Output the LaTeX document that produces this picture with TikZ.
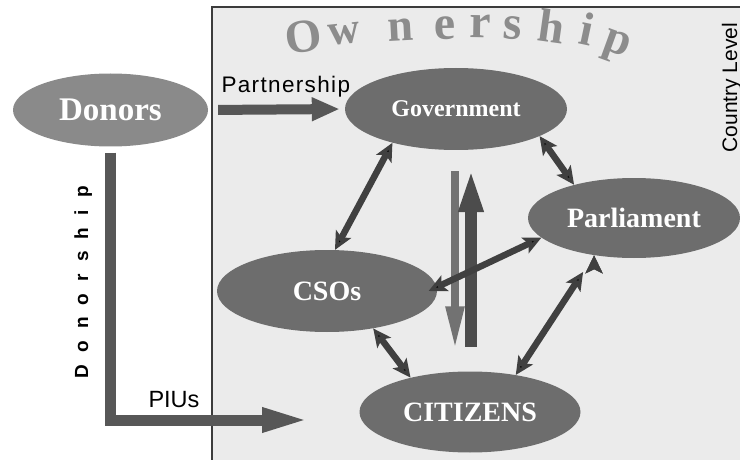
\documentclass[tikz,border=0pt]{standalone}
\usepackage{fontspec}
\setmainfont{Liberation Serif}
\setsansfont{Liberation Sans}
\usetikzlibrary{arrows.meta,shapes.geometric}

\definecolor{panel}{HTML}{EBEBEB}
\definecolor{frame}{HTML}{3C3C3C}
\definecolor{donorgray}{HTML}{8A8A8A}
\definecolor{actorgray}{HTML}{6D6D6D}
\definecolor{flowgray}{HTML}{575757}
\definecolor{linkgray}{HTML}{404040}
\definecolor{downgray}{HTML}{727272}
\definecolor{upgray}{HTML}{4C4C4C}
\definecolor{owngray}{HTML}{8C8C8C}

\begin{document}
\begin{tikzpicture}[x=1pt,y=-1pt,
    actor/.style={ellipse,fill=actorgray,text=white,inner sep=0pt,
                  font=\fontsize{28}{30}\selectfont\bfseries},
    link/.style={{Stealth[length=18pt,width=17pt,inset=4pt]}-{Stealth[length=18pt,width=17pt,inset=4pt]},
                 line width=6.5pt,draw=linkgray},
    flow/.style={-{Triangle[length=#1,width=22pt]},line width=10pt,draw=flowgray},
    label/.style={font=\sffamily\fontsize{#1}{#1}\selectfont,anchor=base west}]
  \useasboundingbox (0,0) rectangle (740,460);

  % country panel
  \fill[panel] (212,7) rectangle (740,460);
  \draw[frame,line width=1.2pt] (212,460) -- (212,7) -- (740,7);

  % arched title
  \foreach \c/\x/\y/\a/\s in {O/306/52/8/47, w/345/44/6/44, n/401/41/3/46,
      e/445/39/1/48, r/480/38/-1/48, s/512/39/-4/48, h/549/42/-8/47,
      i/584/45/-12/47, p/614/53/-20/47}
    \node[name=own\x,text=owngray,font=\fontsize{\s}{\s}\selectfont\bfseries,
          rotate=\a,anchor=base,inner sep=0pt] at (\x,\y) {\c};

  \node[ellipse,fill=donorgray,text=white,inner sep=0pt,minimum width=195pt,
        minimum height=73pt,font=\fontsize{33}{35}\selectfont\bfseries]
        (donors) at (110.5,110) {Donors};
  \node[actor,minimum width=222pt,minimum height=82pt,
        font=\fontsize{24}{26}\selectfont\bfseries] (gov) at (456,109) {Government};
  \node[actor,minimum width=212pt,minimum height=80pt] (parl) at (634,218) {Parliament};
  \node[actor,minimum width=220pt,minimum height=82pt] (csos) at (327,291) {CSOs};
  \node[actor,minimum width=221pt,minimum height=81pt] (cit) at (470,412) {CITIZENS};

  \node[label=22.5] (partner) at (218,93)
        {\addfontfeature{LetterSpace=6}Partnership};
  \node[label=23.5] (pius) at (145,407) {PIUs};
  \node[label=19,font=\sffamily\bfseries\fontsize{19}{20}\selectfont,rotate=90]
        (donorship) at (88,382) {\addfontfeature{LetterSpace=64}Donorship};
  \node[label=21,rotate=90] (level) at (737,156) {Country Level};

  % donor channels
  \coordinate (piu) at (310,420);
  \draw[flow=28pt,shorten <=10pt,shorten >=5pt] (donors.east) -- (gov.west);
  \draw[flow=48pt,line width=11pt,line join=miter,shorten <=6pt]
       (donors.south) -- (donors.south |- piu) -- (piu);

  % accountability up and down
  \draw[-{Triangle[length=44pt,width=17pt]},line width=8pt,draw=downgray,
        shorten <=21pt,shorten >=21pt]
       ([xshift=-1pt]gov.south) -- ([xshift=-1pt]gov.south |- cit.north);
  \draw[-{Triangle[length=45pt,width=22pt]},line width=12pt,draw=upgray,
        shorten <=24.5pt,shorten >=17pt]
       ([xshift=15pt]gov.south |- cit.north) -- ([xshift=15pt]gov.south);

  \path[link]
    (gov.-18) edge (parl.151)
    (gov.-152) edge (csos.79)
    (csos.2) edge[shorten <=-9pt] (parl.-168)
    (csos.-39) edge (cit.150)
    (parl.-137) edge[shorten <=20pt] (cit.39);
\end{tikzpicture}
\end{document}
